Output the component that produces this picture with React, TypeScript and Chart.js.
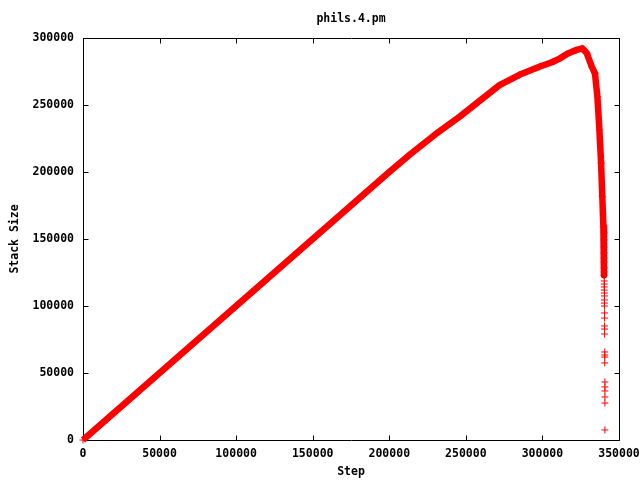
import { useEffect, useRef } from "react";
import { Chart, registerables } from "chart.js";

Chart.register(...registerables);

const chartTitle = "phils.4.pm";
const xLabel = "Step";
const yLabel = "Stack Size";
const xTicks = [0, 50000, 100000, 150000, 200000, 250000, 300000, 350000];
const yTicks = [0, 50000, 100000, 150000, 200000, 250000, 300000];

// main dense band of points
const curveSteps = [0, 25000, 50000, 100000, 150000, 200000, 213500, 230000, 246000, 260000, 272000, 285000, 298000, 307000, 311500, 316000, 322000, 326000, 329000, 332200, 334300, 335900, 337200, 338300, 339100, 339800, 340200];
const curveSizes = [0, 25000, 50000, 100000, 150000, 200000, 213000, 228000, 241300, 254000, 264800, 272500, 278500, 282300, 284800, 288000, 291000, 292300, 288600, 278600, 273700, 256200, 231400, 206700, 181600, 159200, 123000];

// scattered points at the end of the run
const tailSteps = [340300, 340300, 340300, 340300, 340300, 340300, 340400, 340400, 340400, 340400, 340400, 340400, 340500, 340500, 340500, 340500, 340500, 340600, 340600, 340600, 340600, 340600, 340700, 340700, 340700, 340700, 340800, 340800, 340800, 340800, 340800, 340800];
const tailSizes = [154500, 149300, 144000, 139600, 135800, 132800, 128400, 125400, 118700, 116400, 114200, 111900, 109700, 107500, 104500, 102200, 100000, 94800, 91000, 85100, 82800, 79100, 65700, 63400, 61900, 57500, 43300, 39600, 36600, 32100, 27600, 7500];

const RED = "#ff0000";
const FONT_FAMILY = "'DejaVu Sans Mono', monospace";
const font = { family: FONT_FAMILY, size: 11.5, weight: "bold" as const };

const framePlugin = {
  id: "frame",
  beforeDatasetsDraw(chart: any) {
    const { ctx, chartArea: a, scales } = chart;
    const L = Math.round(a.left) + 0.5;
    const R = Math.round(a.right) + 0.5;
    const T = Math.round(a.top) + 0.5;
    const B = Math.round(a.bottom) + 0.5;
    const len = 5;
    ctx.save();
    ctx.strokeStyle = "#000";
    ctx.lineWidth = 1;
    ctx.beginPath();
    ctx.rect(L, T, R - L, B - T);
    for (const v of xTicks) {
      const x = Math.round(scales.x.getPixelForValue(v)) + 0.5;
      ctx.moveTo(x, B);
      ctx.lineTo(x, B - len);
      ctx.moveTo(x, T);
      ctx.lineTo(x, T + len);
    }
    for (const v of yTicks) {
      const y = Math.round(scales.y.getPixelForValue(v)) + 0.5;
      ctx.moveTo(L, y);
      ctx.lineTo(L + len, y);
      ctx.moveTo(R, y);
      ctx.lineTo(R - len, y);
    }
    ctx.stroke();
    ctx.restore();
  },
};

const hiddenGrid = (len: number) => ({
  display: true,
  drawOnChartArea: false,
  drawTicks: true,
  tickLength: len,
  tickColor: "rgba(0,0,0,0)",
});

export default function App() {
  const ref = useRef<HTMLCanvasElement | null>(null);
  useEffect(() => {
    if (!ref.current) return;
    const curve = curveSteps.map((x, i) => ({ x, y: curveSizes[i] }));
    const tail = tailSteps.map((x, i) => ({ x, y: tailSizes[i] }));
    const chart = new Chart(ref.current, {
      type: "scatter",
      data: {
        datasets: [
          {
            data: curve,
            showLine: true,
            borderColor: RED,
            backgroundColor: RED,
            borderWidth: 6.5,
            borderJoinStyle: "round",
            borderCapStyle: "butt",
            pointStyle: "cross",
            pointRadius: 3.5,
            pointBorderWidth: 1,
            pointBorderColor: RED,
            pointBackgroundColor: RED,
            clip: false,
          } as any,
          {
            data: tail,
            showLine: false,
            borderColor: RED,
            backgroundColor: RED,
            pointStyle: "cross",
            pointRadius: 3.5,
            pointBorderWidth: 1,
            pointBorderColor: RED,
            clip: false,
          } as any,
        ],
      },
      options: {
        animation: false,
        responsive: false,
        layout: { padding: { left: 0, right: 21, top: 0, bottom: 0 } },
        plugins: {
          legend: { display: false },
          tooltip: { enabled: false },
          title: {
            display: true,
            text: chartTitle,
            color: "#000",
            font,
            fullSize: false,
            padding: { top: 12.1, bottom: 12.1 },
          },
        },
        scales: {
          x: {
            type: "linear",
            min: 0,
            max: 350000,
            afterBuildTicks: (s: any) => {
              s.ticks = xTicks.map((v) => ({ value: v }));
            },
            afterFit: (s: any) => {
              s.height = 40;
            },
            grid: hiddenGrid(7),
            border: { display: false },
            ticks: {
              color: "#000",
              font,
              padding: 0,
              maxRotation: 0,
              autoSkip: false,
              callback: (v: any) => String(v),
            },
            title: {
              display: true,
              text: xLabel,
              color: "#000",
              font,
              padding: { top: 0, bottom: 1.1 },
            },
          },
          y: {
            type: "linear",
            min: 0,
            max: 300000,
            afterBuildTicks: (s: any) => {
              s.ticks = yTicks.map((v) => ({ value: v }));
            },
            afterFit: (s: any) => {
              s.width = 83;
            },
            grid: hiddenGrid(9),
            border: { display: false },
            ticks: {
              color: "#000",
              font,
              padding: 0,
              autoSkip: false,
              callback: (v: any) => String(v),
            },
            title: {
              display: true,
              text: yLabel,
              color: "#000",
              font,
              padding: { top: 8.1, bottom: 0 },
            },
          },
        },
      } as any,
      plugins: [framePlugin],
    });
    return () => chart.destroy();
  }, []);
  return (
    <div style={{ position: "fixed", left: 0, top: 0, width: 640, height: 480, background: "#fff" }}>
      <canvas ref={ref} width={640} height={480} style={{ display: "block" }} />
    </div>
  );
}
